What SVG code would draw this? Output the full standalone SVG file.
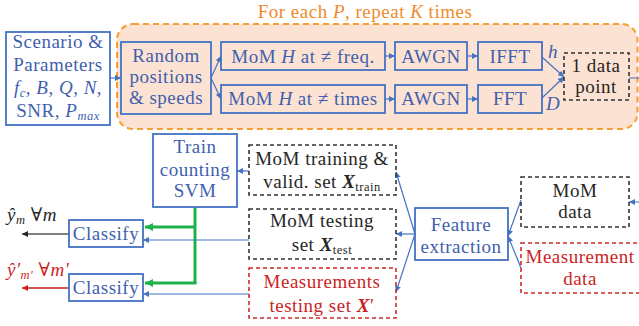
<svg xmlns="http://www.w3.org/2000/svg" width="639" height="326" viewBox="0 0 639 326" font-family="'Liberation Serif', 'Times New Roman', Tinos, 'DejaVu Serif', serif">
  <defs>
    <marker id="ab" markerUnits="userSpaceOnUse" markerWidth="7" markerHeight="6" refX="6" refY="3" orient="auto">
      <path d="M0,0 L6,3 L0,6 Z" fill="#4472c4"/>
    </marker>
    <marker id="ag" markerUnits="userSpaceOnUse" markerWidth="9" markerHeight="8" refX="8" refY="4" orient="auto">
      <path d="M0,0 L8,4 L0,8 Z" fill="#1fb24a"/>
    </marker>
    <marker id="ak" markerUnits="userSpaceOnUse" markerWidth="7" markerHeight="6" refX="6" refY="3" orient="auto">
      <path d="M0,0 L6,3 L0,6 Z" fill="#222"/>
    </marker>
    <marker id="ar" markerUnits="userSpaceOnUse" markerWidth="7" markerHeight="6" refX="6" refY="3" orient="auto">
      <path d="M0,0 L6,3 L0,6 Z" fill="#cc1f1f"/>
    </marker>
  </defs>
  <style>
    text { font-family: 'Liberation Serif', 'Times New Roman', Tinos, 'DejaVu Serif', serif; font-size: 19px; text-anchor: middle; letter-spacing: 0.5px; }
    .blue { fill: #3f5fae; }
    .dark { fill: #262626; }
    .red { fill: #cc1f1f; }
    .orange { fill: #ef8a2c; }
    .box { fill: none; stroke: #4472c4; stroke-width: 1.8; }
    .boxk { fill: none; stroke: #333; stroke-width: 1.6; stroke-dasharray: 4 3; }
    .boxr { fill: none; stroke: #d02a2a; stroke-width: 1.6; stroke-dasharray: 4 3; }
    .it { font-style: italic; }
    .bi { font-style: italic; font-weight: bold; }
    .sub { font-size: 12.5px; }
    .start { text-anchor: start; }
    .ln { fill: none; stroke: #4472c4; stroke-width: 1.2; marker-end: url(#ab); }
    .lg { fill: none; stroke: #1fb24a; stroke-width: 3; }
  </style>

  <!-- repeated simulation loop -->
  <g id="loop">
    <rect x="117" y="24" width="520.5" height="105" rx="16" fill="#fbe2d2" stroke="#f5a030" stroke-width="2" stroke-dasharray="6 4"/>
    <text class="orange" x="365" y="18">For each <tspan class="it">P</tspan>, repeat <tspan class="it">K</tspan> times</text>
  </g>

  <g id="connectors">
    <path class="ln" d="M110,78 H121"/>
    <path class="ln" d="M211,78 L221,56"/>
    <path class="ln" d="M211,78 L221,99"/>
    <path class="ln" d="M385,56 H395"/>
    <path class="ln" d="M385,99 H395"/>
    <path class="ln" d="M467,56 H478"/>
    <path class="ln" d="M467,99 H478"/>
    <path class="ln" d="M542,57 L564,77"/>
    <path class="ln" d="M542,98 L564,77"/>
    <path class="ln" d="M629,78 H640 V202 H629"/>
    <path class="ln" d="M521,200 L508,236"/>
    <path class="ln" d="M521,268 L508,236"/>
    <path class="ln" d="M415,234 L396,172"/>
    <path class="ln" d="M415,234 H396"/>
    <path class="ln" d="M415,234 L396,292"/>
    <path class="ln" d="M249,171 H237"/>
    <path class="ln" d="M249,240 H143"/>
    <path class="ln" d="M249,294 H143"/>
    <path class="lg" d="M195,207 V283"/>
    <path class="lg" d="M195,227 H145" marker-end="url(#ag)"/>
    <path class="lg" d="M196.5,283 H145" marker-end="url(#ag)"/>
    <path d="M69,234 H22" stroke="#555" stroke-width="1.5" fill="none" marker-end="url(#ak)"/>
    <path d="M69,288 H22" stroke="#cc1f1f" stroke-width="1.5" fill="none" marker-end="url(#ar)"/>
  </g>

  <g id="scenario">
    <rect class="box" x="6" y="32" width="104" height="93"/>
    <text class="blue" x="58" y="48">Scenario &amp;</text>
    <text class="blue" x="58" y="71">Parameters</text>
    <text class="blue" x="58" y="94"><tspan class="it">f</tspan><tspan class="it sub" dy="3">c</tspan><tspan dy="-3">, </tspan><tspan class="it">B</tspan>, <tspan class="it">Q</tspan>, <tspan class="it">N</tspan>,</text>
    <text class="blue" x="58" y="117">SNR, <tspan class="it">P</tspan><tspan class="it sub" dy="3">max</tspan></text>
  </g>

  <g id="random">
    <rect class="box" x="121" y="42" width="90" height="72"/>
    <text class="blue" x="166" y="62">Random</text>
    <text class="blue" x="166" y="83">positions</text>
    <text class="blue" x="166" y="104">&amp; speeds</text>
  </g>

  <g id="mom-freq">
    <rect class="box" x="221" y="42" width="164" height="28"/>
    <text class="blue" x="303" y="63">MoM <tspan class="it">H</tspan> at ≠ freq.</text>
  </g>
  <g id="mom-times">
    <rect class="box" x="221" y="85" width="164" height="28"/>
    <text class="blue" x="303" y="105">MoM <tspan class="it">H</tspan> at ≠ times</text>
  </g>

  <g id="awgn-1">
    <rect class="box" x="395" y="42" width="72" height="28"/>
    <text class="blue" x="431" y="63">AWGN</text>
  </g>
  <g id="awgn-2">
    <rect class="box" x="395" y="85" width="72" height="28"/>
    <text class="blue" x="431" y="105">AWGN</text>
  </g>

  <g id="ifft">
    <rect class="box" x="478" y="42" width="64" height="28"/>
    <text class="blue" x="510" y="63">IFFT</text>
    <text class="blue it" x="553" y="58">h</text>
  </g>
  <g id="fft">
    <rect class="box" x="478" y="85" width="64" height="28"/>
    <text class="blue" x="510" y="105">FFT</text>
    <text class="blue it" x="553" y="110">D</text>
  </g>

  <g id="data-point">
    <rect class="boxk" x="564" y="53" width="65" height="47"/>
    <text class="dark" x="596" y="72">1 data</text>
    <text class="dark" x="596" y="93">point</text>
  </g>

  <g id="mom-data">
    <rect class="boxk" x="521" y="177" width="108" height="50"/>
    <text class="dark" x="575" y="197">MoM</text>
    <text class="dark" x="575" y="218">data</text>
  </g>

  <g id="meas-data">
    <rect class="boxr" x="521" y="243" width="122" height="50"/>
    <text class="red" x="580" y="263">Measurement</text>
    <text class="red" x="580" y="285">data</text>
  </g>

  <g id="feature">
    <rect class="box" x="415" y="208" width="93" height="52"/>
    <text class="blue" x="461" y="231">Feature</text>
    <text class="blue" x="461" y="253">extraction</text>
  </g>

  <g id="train-set">
    <rect class="boxk" x="249" y="145" width="147" height="50"/>
    <text class="dark" x="322" y="165">MoM training &amp;</text>
    <text class="dark" x="322" y="188">valid. set <tspan class="bi">X</tspan><tspan class="sub" dy="3">train</tspan></text>
  </g>

  <g id="test-set">
    <rect class="boxk" x="249" y="209" width="147" height="50"/>
    <text class="dark" x="322" y="227">MoM testing</text>
    <text class="dark" x="322" y="251">set <tspan class="bi">X</tspan><tspan class="sub" dy="3">test</tspan></text>
  </g>

  <g id="meas-set">
    <rect class="boxr" x="249" y="268" width="147" height="50"/>
    <text class="red" x="322" y="288">Measurements</text>
    <text class="red" x="322" y="312">testing set <tspan class="bi">X</tspan>′</text>
  </g>

  <g id="svm">
    <rect class="box" x="153" y="134" width="84" height="73"/>
    <text class="blue" x="195" y="153">Train</text>
    <text class="blue" x="195" y="176">counting</text>
    <text class="blue" x="195" y="197">SVM</text>
  </g>

  <g id="classify-1">
    <rect class="box" x="69" y="220" width="74" height="27"/>
    <text class="blue" x="106" y="240">Classify</text>
    <text class="dark start" x="7" y="221"><tspan class="it">ŷ</tspan><tspan class="it sub" dy="3">m</tspan><tspan dy="-3">  ∀</tspan><tspan class="it">m</tspan></text>
  </g>

  <g id="classify-2">
    <rect class="box" x="69" y="274" width="74" height="27"/>
    <text class="blue" x="106" y="294">Classify</text>
    <text class="red start" x="7" y="276"><tspan class="it">ŷ′</tspan><tspan class="it sub" dy="3">m′</tspan><tspan dy="-3"> ∀</tspan><tspan class="it">m′</tspan></text>
  </g>
</svg>
